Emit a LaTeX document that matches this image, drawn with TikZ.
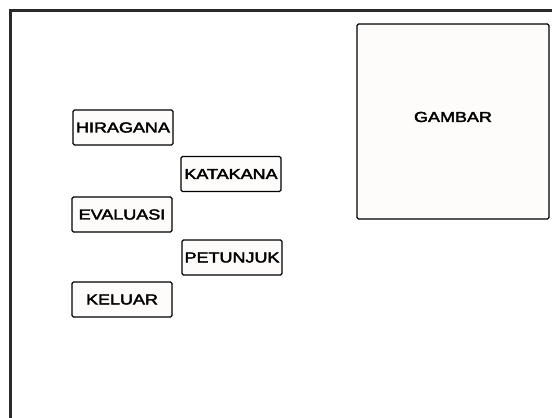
\documentclass[tikz,border=0pt]{standalone}
\usepackage{fontspec}
\setmainfont{Liberation Sans}[FakeBold=2.5]
\definecolor{boxfill}{HTML}{FDFCFA}
\definecolor{framecol}{HTML}{2A2A2A}
\begin{document}
\begin{tikzpicture}[x=1pt,y=-1pt,
  menubox/.style={draw=black,line width=1.1pt,fill=boxfill,rounded corners=1.5pt,
    minimum width=100pt,minimum height=35pt,inner sep=0pt,font=\fontsize{14.5}{14.5}\selectfont},
  lbl/.style={font=\fontsize{14.5}{14.5}\selectfont,inner sep=0pt}]
\useasboundingbox (0,0) rectangle (552,418);
\begin{scope}
\clip (0,0) rectangle (552,418);
\draw[framecol,line width=2.6pt] (10.5,440) -- (10.5,10.5) -- (580,10.5);
\end{scope}
\node[menubox] (hira) at (123,127.5) {\scalebox{1.24}[1]{HIRAGANA}};
\node[menubox] (kata) at (231,174) {\scalebox{1.24}[1]{KATAKANA}};
\node[menubox] (eval) at (122,214.5) {\scalebox{1.24}[1]{EVALUASI}};
\node[menubox] (petu) at (232,257.5) {\scalebox{1.24}[1]{PETUNJUK}};
\node[menubox] (kelu) at (122,299.5) {\scalebox{1.24}[1]{KELUAR}};
\node[menubox,minimum width=192pt,minimum height=195pt] (gbox) at (453,121.5) {};
\node[lbl] (gtext) at (453,117) {\scalebox{1.24}[1]{GAMBAR}};
\end{tikzpicture}
\end{document}
